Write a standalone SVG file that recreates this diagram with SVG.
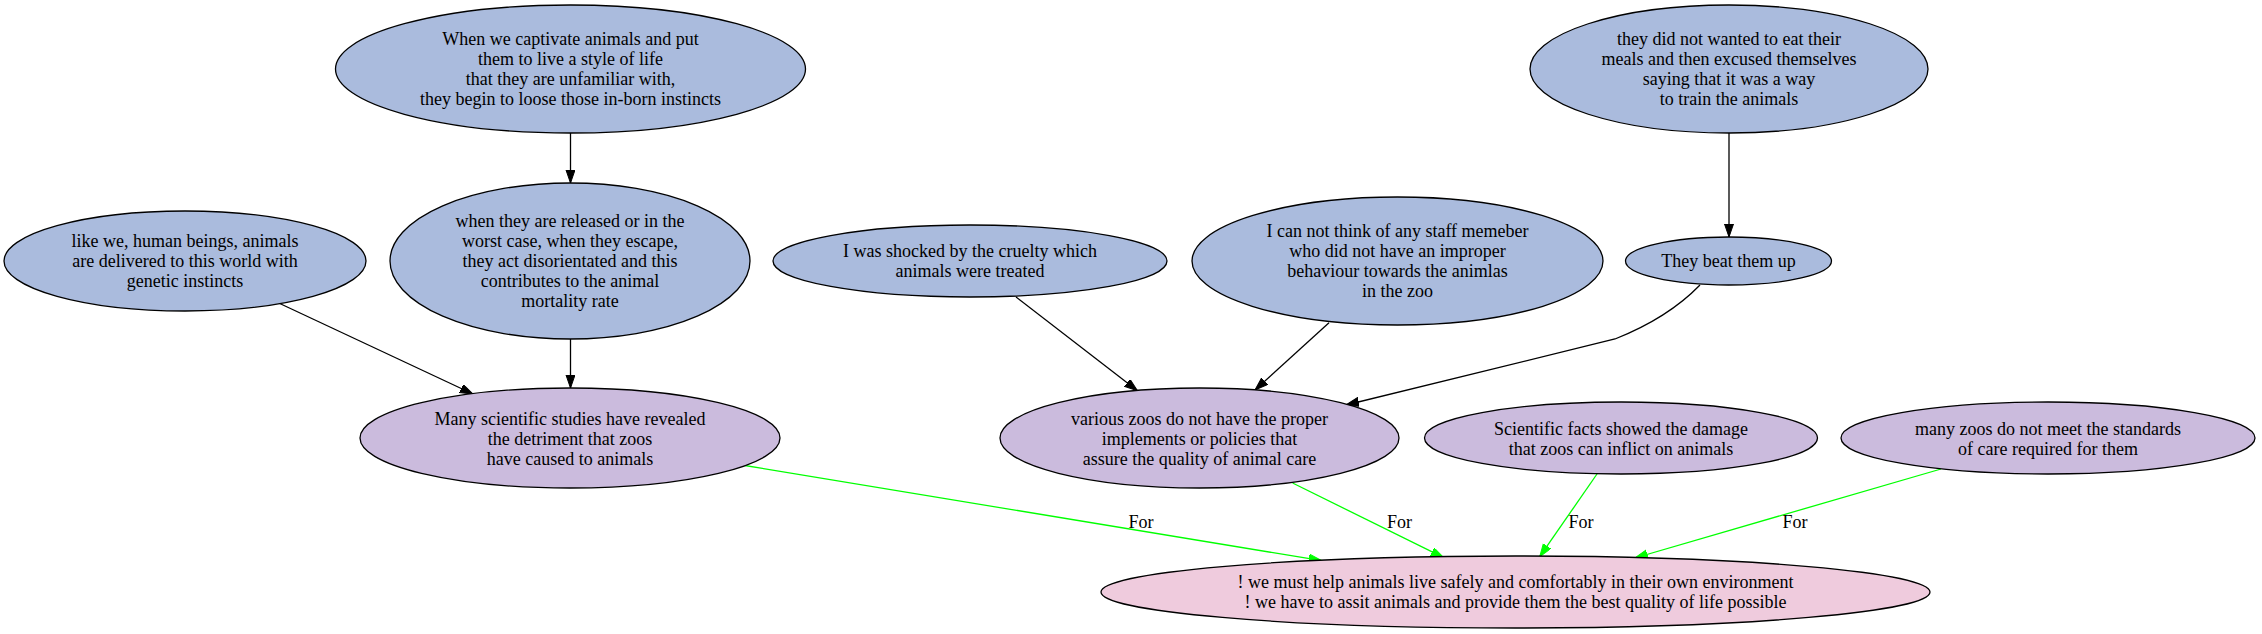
<svg xmlns="http://www.w3.org/2000/svg" width="2262" height="634" viewBox="0 0 2262 634">
<style>
.n ellipse{stroke:#000;stroke-width:1.3}
.b ellipse{fill:#aabbdd}
.p ellipse{fill:#cbbbdd}
.k ellipse{fill:#efcbdd}
text{font-family:"Liberation Serif","Times New Roman",serif;font-size:18px;fill:#000;text-anchor:middle}
.e path{fill:none;stroke-width:1.3}
.blk{stroke:#000}
.grn{stroke:#00ff00}
</style>
<defs>
<marker id="ab" markerUnits="userSpaceOnUse" markerWidth="14" markerHeight="10" refX="13" refY="4.5" orient="auto"><path d="M0,0 L13,4.5 L0,9 z" fill="#000" stroke="#000" stroke-width="1"/></marker>
<marker id="ag" markerUnits="userSpaceOnUse" markerWidth="14" markerHeight="10" refX="13" refY="4.5" orient="auto"><path d="M0,0 L13,4.5 L0,9 z" fill="#00ff00" stroke="#00ff00" stroke-width="1"/></marker>
</defs>
<rect width="2262" height="634" fill="#fff"/>
<g id="edges" class="e">
<path class="blk" d="M570.5,133 L570.5,183" marker-end="url(#ab)"/>
<path class="blk" d="M1729,133 L1729,237" marker-end="url(#ab)"/>
<path class="blk" d="M278.7,303 L473,394" marker-end="url(#ab)"/>
<path class="blk" d="M570.5,339 L570.5,388" marker-end="url(#ab)"/>
<path class="blk" d="M1016,297 L1137.5,390.7" marker-end="url(#ab)"/>
<path class="blk" d="M1329,322.7 L1255,390" marker-end="url(#ab)"/>
<path class="blk" d="M1700,285 Q1668,318 1615,339 L1346,405" marker-end="url(#ab)"/>
<path class="grn" d="M741.6,465 L1321.7,560.7" marker-end="url(#ag)"/>
<path class="grn" d="M1292.6,483 L1443.8,557.7" marker-end="url(#ag)"/>
<path class="grn" d="M1597,474 L1539.7,556.7" marker-end="url(#ag)"/>
<path class="grn" d="M1941,469 L1634.8,558" marker-end="url(#ag)"/>
<text x="1141" y="528">For</text>
<text x="1399.5" y="528">For</text>
<text x="1581" y="528">For</text>
<text x="1795" y="528">For</text>
</g>
<g id="n1" class="n b"><ellipse cx="570.5" cy="69" rx="235" ry="64"/>
<text x="570.5" y="45">When we captivate animals and put</text>
<text x="570.5" y="65">them to live a style of life</text>
<text x="570.5" y="85">that they are unfamiliar with,</text>
<text x="570.5" y="105">they begin to loose those in-born instincts</text></g>
<g id="n2" class="n b"><ellipse cx="185" cy="261" rx="181" ry="50"/>
<text x="185" y="247">like we, human beings, animals</text>
<text x="185" y="267">are delivered to this world with</text>
<text x="185" y="287">genetic instincts</text></g>
<g id="n3" class="n b"><ellipse cx="570" cy="261" rx="180" ry="78"/>
<text x="570" y="227">when they are released or in the</text>
<text x="570" y="247">worst case, when they escape,</text>
<text x="570" y="267">they act disorientated and this</text>
<text x="570" y="287">contributes to the animal</text>
<text x="570" y="307">mortality rate</text></g>
<g id="n4" class="n b"><ellipse cx="970" cy="261" rx="197" ry="36"/>
<text x="970" y="257">I was shocked by the cruelty which</text>
<text x="970" y="277">animals were treated</text></g>
<g id="n5" class="n b"><ellipse cx="1397.5" cy="261" rx="205.5" ry="64"/>
<text x="1397.5" y="237">I can not think of any staff memeber</text>
<text x="1397.5" y="257">who did not have an improper</text>
<text x="1397.5" y="277">behaviour towards the animlas</text>
<text x="1397.5" y="297">in the zoo</text></g>
<g id="n6" class="n b"><ellipse cx="1729" cy="69" rx="199" ry="64"/>
<text x="1729" y="45">they did not wanted to eat their</text>
<text x="1729" y="65">meals and then excused themselves</text>
<text x="1729" y="85">saying that it was a way</text>
<text x="1729" y="105">to train the animals</text></g>
<g id="n7" class="n b"><ellipse cx="1728.5" cy="261" rx="103" ry="24"/>
<text x="1728.5" y="267">They beat them up</text></g>
<g id="n8" class="n p"><ellipse cx="570" cy="438" rx="210" ry="50"/>
<text x="570" y="425">Many scientific studies have revealed</text>
<text x="570" y="445">the detriment that zoos</text>
<text x="570" y="465">have caused to animals</text></g>
<g id="n9" class="n p"><ellipse cx="1199.5" cy="438" rx="199.5" ry="50"/>
<text x="1199.5" y="425">various zoos do not have the proper</text>
<text x="1199.5" y="445">implements or policies that</text>
<text x="1199.5" y="465">assure the quality of animal care</text></g>
<g id="n10" class="n p"><ellipse cx="1621" cy="438" rx="196.5" ry="36"/>
<text x="1621" y="435">Scientific facts showed the damage</text>
<text x="1621" y="455">that zoos can inflict on animals</text></g>
<g id="n11" class="n p"><ellipse cx="2048" cy="438" rx="207" ry="36"/>
<text x="2048" y="435">many zoos do not meet the standards</text>
<text x="2048" y="455">of care required for them</text></g>
<g id="n12" class="n k"><ellipse cx="1515.5" cy="592" rx="414.5" ry="36"/>
<text x="1515.5" y="588">! we must help animals live safely and comfortably in their own environment</text>
<text x="1515.5" y="608">! we have to assit animals and provide them the best quality of life possible</text></g>
</svg>
